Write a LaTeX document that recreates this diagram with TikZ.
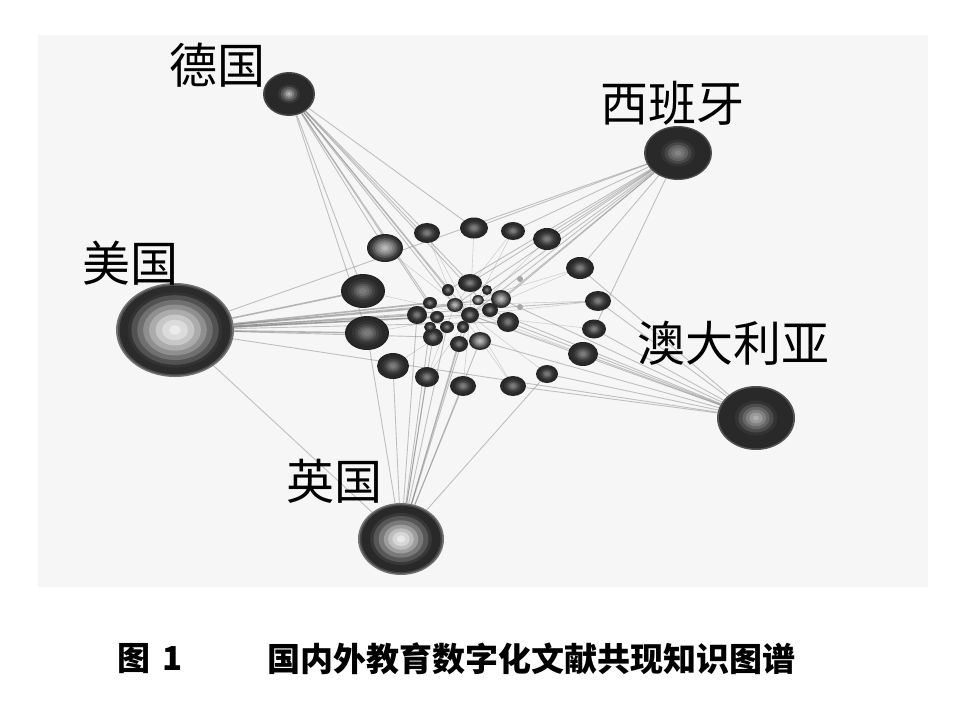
\documentclass[tikz,border=0pt]{standalone}
\usepackage{fontspec}
\newfontfamily\cjk{Noto Sans CJK SC}
\usetikzlibrary{shapes.geometric}
\pgfdeclarelayer{back}
\pgfdeclarelayer{bg}
\pgfsetlayers{back,bg,main}
\definecolor{panel}{HTML}{F6F6F6}
\tikzset{
  lnk/.style={draw=black!55, opacity=0.42, line width=0.9pt},
  lnkt/.style={draw=black!55, opacity=0.5, line width=1.6pt},
  lnkf/.style={draw=black!40, opacity=0.4, line width=0.6pt},
  nd/.style={ellipse, inner sep=0pt},
  dotnode/.style={circle, inner sep=0pt, minimum size=6pt, fill=black!35},
  lab/.style={font=\cjk\fontsize{48}{48}\selectfont, inner sep=0pt, text=black},
  captxt/.style={font=\cjk\bfseries\fontsize{33}{33}\selectfont, inner sep=0pt, text=black, anchor=west},
}
% ring lists: fraction/black-percentage
\newcommand\smallrings{1/86,0.9/84,0.7/80,0.55/74,0.42/66,0.3/58,0.18/52}
\newcommand\lightrings{1/84,0.85/76,0.7/64,0.55/52,0.4/42,0.25/33,0.12/27}
\newcommand\usrings{1/55,0.97/70,0.94/83,0.8/80,0.74/68,0.64/56,0.54/44,0.44/33,0.33/22,0.22/14,0.1/8}
\newcommand\ukrings{1/55,0.96/72,0.92/84,0.72/78,0.64/66,0.52/52,0.4/38,0.3/26,0.2/16,0.1/9}
\newcommand\aurings{1/68,0.95/84,0.55/80,0.45/70,0.35/60,0.26/50,0.17/40,0.08/32}
\newcommand\esrings{1/70,0.95/84,0.5/80,0.4/72,0.3/62,0.2/55,0.1/48}
\newcommand\derings{1/72,0.93/84,0.42/78,0.32/66,0.22/52,0.13/38,0.06/28}
\newcommand\rings[4]{\foreach \f/\k in #4 {\fill[black!\k] (#1.center) ellipse [x radius=\f*#2, y radius=\f*#3];}}
\newcommand\snode[6][\smallrings]{\node[nd, minimum width=#5pt, minimum height=#6pt] (#2) at (#3,#4) {};\rings{#2}{#5/2}{#6/2}{#1}}
\begin{document}
\begin{tikzpicture}[x=1pt,y=-1pt]
\useasboundingbox (0,0) rectangle (963,702);
\begin{pgfonlayer}{back}
\fill[white] (0,0) rectangle (963,702);
\fill[panel] (38,35) rectangle (928,587);
\end{pgfonlayer}
% hubs
\node[nd, minimum width=52pt, minimum height=44pt] (DE) at (289,94) {};
\node[nd, minimum width=68pt, minimum height=54pt] (ES) at (678,153) {};
\node[nd, minimum width=118pt, minimum height=94pt] (US) at (175,330) {};
\node[nd, minimum width=78pt, minimum height=64pt] (AU) at (756,418) {};
\node[nd, minimum width=86pt, minimum height=72pt] (UK) at (401,539) {};
\rings{DE}{26}{22}{\derings}
\rings{ES}{34}{27}{\esrings}
\rings{US}{59}{47}{\usrings}
\rings{AU}{39}{32}{\aurings}
\rings{UK}{43}{36}{\ukrings}
% ring nodes
\snode{r1}{427}{233}{26}{20}
\snode{r2}{474}{228}{28}{21}
\snode{r3}{513}{231}{24}{18}
\snode{r4}{547}{239}{28}{22}
\snode[\lightrings]{r5}{385}{248}{36}{28}
\snode{r6}{580}{268}{28}{22}
\snode{r7}{363}{291}{44}{34}
\snode{r8}{598}{301}{26}{20}
\snode{r9}{367}{333}{44}{34}
\snode{r10}{594}{329}{24}{19}
\snode{r11}{583}{354}{30}{24}
\snode{r12}{393}{366}{32}{26}
\snode{r13}{427}{377}{24}{20}
\snode{r14}{463}{386}{26}{20}
\snode{r15}{513}{386}{26}{20}
\snode{r16}{547}{374}{22}{18}
% inner cluster
\snode{c1}{470}{283}{24}{18}
\snode[\lightrings]{c2}{501}{299}{20}{18}
\snode{c3}{508}{322}{22}{20}
\snode[\lightrings]{c4}{480}{341}{22}{18}
\snode{c5}{459}{344}{18}{16}
\snode{c6}{433}{337}{20}{18}
\snode{c7}{417}{315}{20}{18}
\snode{c8}{448}{290}{12}{12}
\snode{c9}{430}{303}{14}{12}
\snode[\lightrings]{c10}{455}{305}{16}{14}
\snode{c11}{470}{315}{18}{16}
\snode{c12}{490}{310}{16}{14}
\snode{c13}{437}{317}{14}{12}
\snode{c14}{447}{327}{14}{12}
\snode{c15}{463}{327}{12}{12}
\snode{c16}{487}{290}{10}{10}
\snode{c17}{430}{327}{12}{10}
\snode[\lightrings]{c18}{478}{300}{12}{10}
\node[dotnode] (g1) at (520,279) {};
\node[dotnode] (g2) at (520,307) {};
% edges
\begin{pgfonlayer}{bg}
\foreach \t in {r1,r2,r5,r7,r9,c1,c8,c9,c10,c13,c12,c11} \draw[lnk] (DE) -- (\t);
\foreach \t in {r2,r3,r4,r6,r10,c1,c2,c12,c18,c11,c10,c8,US} \draw[lnk] (ES) -- (\t);
\foreach \t in {r7,r9,c7,c9,c13,c10} \draw[lnkt] (US) -- (\t);
\foreach \t in {c11,c2,c3,r8,c6,UK,AU} \draw[lnk] (US) -- (\t);
\foreach \t in {r12,r13,r14,r16,c5,c6,c4,c14,c15,c11,c7,c17,r9} \draw[lnk] (UK) -- (\t);
\foreach \t in {r11,r16,r8,r10,c3,c4,c12,c11,r15,r6,c2} \draw[lnk] (AU) -- (\t);
\foreach \t in {r1,r2,r3,r4,r5,r6,r7,r8,r9,r10,r11,r12,r13,r14,r15,r16} \draw[lnkf] (\t) -- (c11);
\foreach \t in {r1,r3,r6,r8,r11,r13,r15} \draw[lnkf] (\t) -- (c10);
\end{pgfonlayer}
% labels
\node[lab] (lDE) at (217,65) {德国};
\node[lab] (lES) at (672,103) {西班牙};
\node[lab] (lUS) at (130,263) {美国};
\node[lab] (lAU) at (733,343) {澳大利亚};
\node[lab] (lUK) at (334,481) {英国};
% caption
\node[captxt] (cap1) at (117,659) {图};
\node[captxt] (cap2) at (162,659) {1};
\node[captxt] (cap3) at (267,659) {国内外教育数字化文献共现知识图谱};
\end{tikzpicture}
\end{document}
